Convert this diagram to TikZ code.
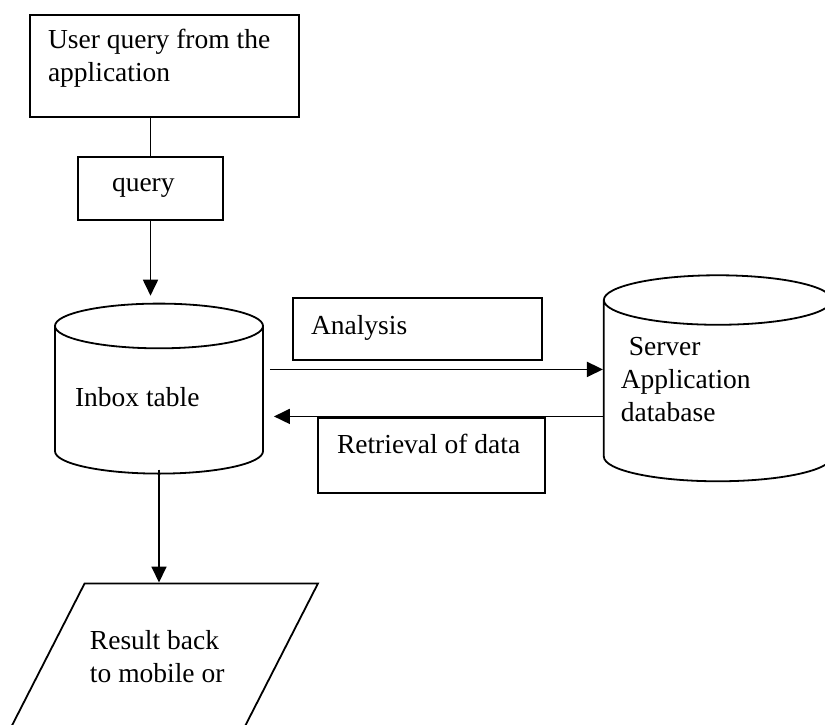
\documentclass[tikz,border=0pt]{standalone}
\usepackage{fontspec}
\setmainfont{Liberation Serif}
\usepackage{tikz}
\usetikzlibrary{arrows.meta,positioning,shapes.geometric}

\begin{document}
\begin{tikzpicture}[
    x=0.5pt, y=-0.5pt,
    font=\fontsize{13.75}{16.5}\selectfont,
    line width=0.9pt,
    box/.style={draw, rectangle, align=flush left, inner xsep=9pt, inner ysep=0pt},
    db/.style={draw, cylinder, shape border rotate=90, align=flush left, inner sep=1pt},
    io/.style={draw, trapezium, trapezium left angle=62, trapezium right angle=118, trapezium stretches body=true, align=flush left, inner xsep=1pt, inner ysep=22pt},
    flow/.style={-{Triangle[length=8pt, width=7.5pt]}},
    link/.style={-}
  ]
    \useasboundingbox (0,0) rectangle (825,724);
    \clip (0,0) rectangle (825,724);

    \node[box, minimum width=134.5pt, minimum height=51pt, text width=116.5pt, text depth=27pt] (usr) at (164.5,66) {User query from the\\application};
    \node[box, minimum width=72.5pt, minimum height=31.5pt, text width=38.5pt, below=19pt of usr, xshift=-7pt] (qry) {query};
    \node[db, minimum width=104pt, minimum height=85pt, aspect=0.26, text width=84pt, text depth=5pt, below=41pt of qry, xshift=4.25pt] (inbox) {Inbox table};
    \node[db, minimum width=114pt, minimum height=103pt, aspect=0.25, text width=97pt, text depth=47pt, right=169.5pt of inbox, yshift=4.5pt] (srv) {\hspace*{4pt}Server\\Application\\database};
    \node[box, minimum width=124.5pt, minimum height=31pt, text width=106.5pt, text depth=4pt] (ana) at (417.5,329) {Analysis};
    \node[box, minimum width=113.5pt, minimum height=37.5pt, text width=94.5pt, text depth=12pt] (ret) at (431.5,455.5) {Retrieval of data};
    \node[io, minimum width=154pt, minimum height=73pt, text width=74pt, below=54pt of inbox, xshift=2.5pt] (res) {Result back\\to mobile or};

    \draw[link] (usr.south -| qry.north) -- (qry.north);
    \draw[flow, shorten >=3.5pt] (qry.south) -- (qry.south |- inbox.north);
    \draw[flow] ([xshift=3pt,yshift=16.5pt]inbox.east) -- ([yshift=16.5pt]inbox.east -| srv.west);
    \draw[flow] ([yshift=-7pt]inbox.east -| srv.west) -- ([xshift=5pt,yshift=-7pt]inbox.east);
    \draw[flow] ([yshift=2.5pt]inbox.south) -- (inbox.south |- res.north);
  \end{tikzpicture}
\end{document}
